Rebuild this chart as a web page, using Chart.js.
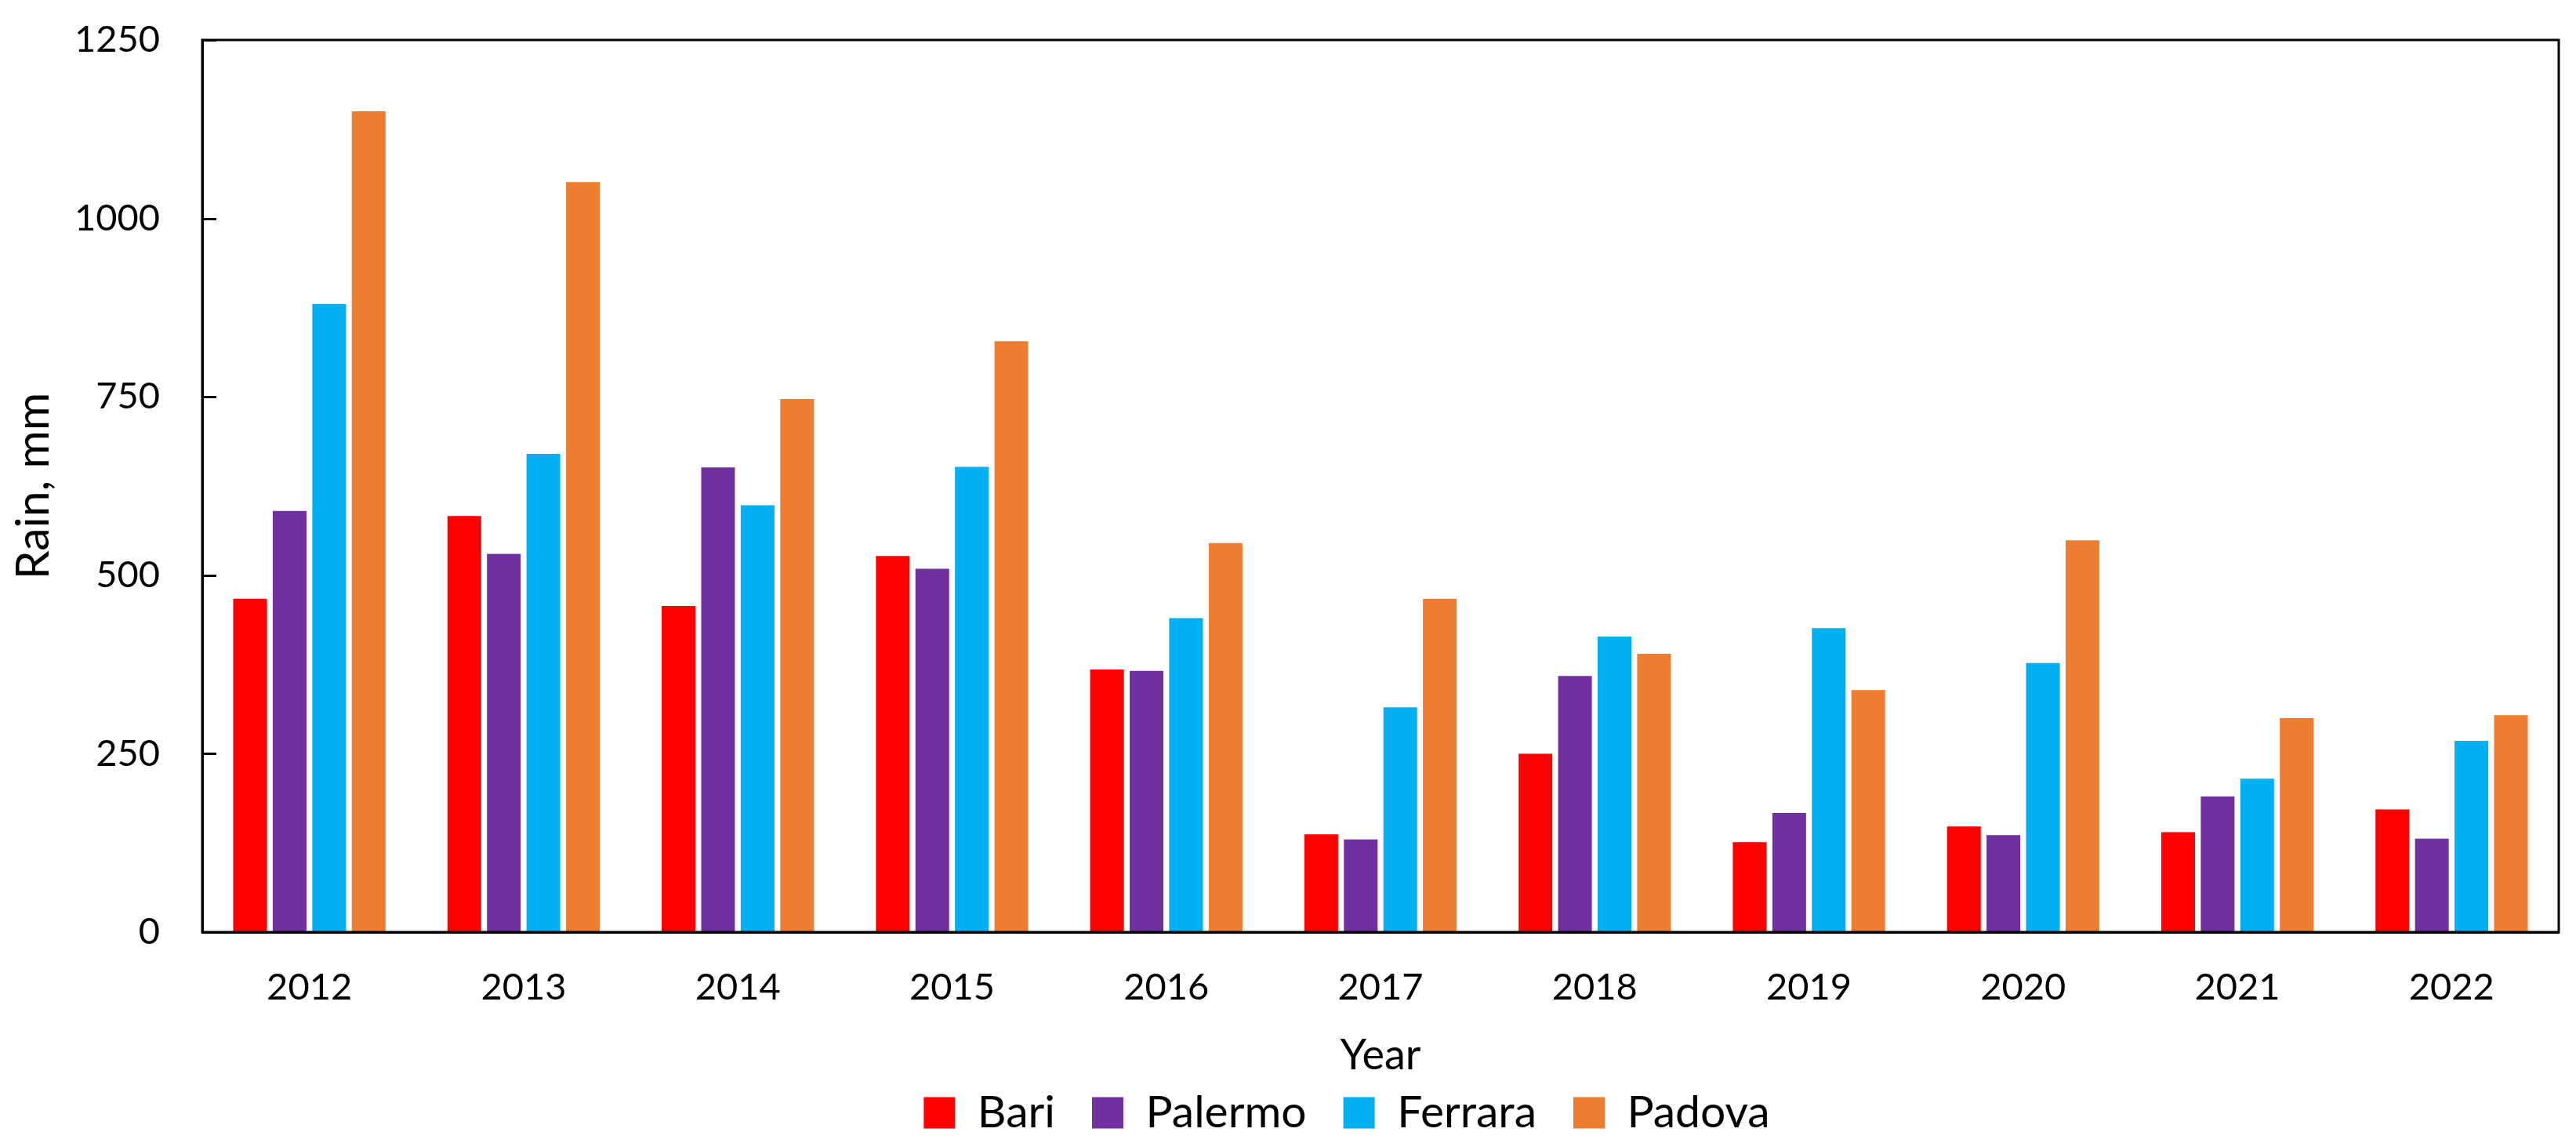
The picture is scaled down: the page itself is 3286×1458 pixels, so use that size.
<!DOCTYPE html>
<html>
<head>
<meta charset="utf-8">
<title>Rain by year</title>
<script src="https://cdn.jsdelivr.net/npm/chart.js@4/dist/chart.umd.min.js"></script>
<style>
    html, body { margin: 0; padding: 0; background: #fff; }
    #wrap { width: 3286px; height: 1458px; }
</style>
</head>
<body>
<div id="wrap"><canvas id="rainChart" width="3286" height="1458"></canvas></div>
<script>
const years = ['2012', '2013', '2014', '2015', '2016', '2017', '2018', '2019', '2020', '2021', '2022'];
const bari = [467, 583, 457, 527, 368, 137, 250, 126, 148, 140, 172];
const palermo = [590, 530, 651, 509, 366, 130, 359, 167, 136, 190, 131];
const ferrara = [880, 670, 598, 652, 440, 315, 414, 426, 377, 215, 268];
const padova = [1150, 1051, 747, 828, 545, 467, 390, 339, 549, 300, 304];
const seriesNames = ['Bari', 'Palermo', 'Ferrara', 'Padova'];
const seriesColors = ['#FF0000', '#7030A0', '#00B0F0', '#ED7D31'];
const yMin = 0;
const yMax = 1250;
const yStep = 250;

const FONT = 'Lato, "Open Sans", sans-serif';

// box round the plot and short inward ticks on the y axis
const framePlugin = {
    id: 'frame',
    afterLayout(chart) {
        // legend sits a bit right of the canvas centre in the original
        chart.legend.left += 86;
        chart.legend.right += 86;
    },
    afterDraw(chart) {
        const { ctx, chartArea: a } = chart;
        const yScale = chart.scales.y;
        ctx.save();
        ctx.strokeStyle = '#000';
        ctx.lineWidth = 3;
        yScale.ticks.forEach(t => {
            const py = Math.round(yScale.getPixelForValue(t.value)) + 0.5;
            ctx.beginPath();
            ctx.moveTo(a.left, py);
            ctx.lineTo(a.left + 18, py);
            ctx.stroke();
        });
        ctx.strokeRect(a.left, a.top, a.right - a.left, a.bottom - a.top);
        ctx.restore();
    }
};

function buildDatasets() {
    const values = [bari, palermo, ferrara, padova];
    return seriesNames.map((name, i) => ({
        label: name,
        data: values[i],
        backgroundColor: seriesColors[i],
        borderWidth: 0,
        categoryPercentage: 0.738,
        barPercentage: 0.853
    }));
}

const ctx = document.getElementById('rainChart').getContext('2d');
const rainChart = new Chart(ctx, {
    type: 'bar',
    data: {
        labels: years,
        datasets: buildDatasets()
    },
    options: {
        responsive: false,
        animation: false,
        devicePixelRatio: 1,
        layout: {
            padding: { left: 0, right: 22, top: 51, bottom: 0 }
        },
        plugins: {
            legend: {
                position: 'bottom',
                labels: {
                    boxWidth: 40,
                    boxHeight: 40,
                    padding: 47,
                    color: '#000',
                    font: { family: FONT, size: 57 }
                }
            },
            tooltip: { enabled: false }
        },
        scales: {
            x: {
                grid: { display: false },
                border: { display: true, color: '#000', width: 3 },
                ticks: {
                    color: '#000',
                    padding: 35,
                    font: { family: FONT, size: 47 }
                },
                title: {
                    display: true,
                    text: 'Year',
                    color: '#000',
                    font: { family: FONT, size: 54 },
                    padding: { top: 0, bottom: -35 }
                },
                afterFit: (scale) => { scale.height = 155; }
            },
            y: {
                min: yMin,
                max: yMax,
                grid: { display: false, drawTicks: false },
                border: { display: true, color: '#000', width: 3 },
                ticks: {
                    stepSize: yStep,
                    color: '#000',
                    padding: 54,
                    font: { family: FONT, size: 47 },
                    callback: (value) => String(value)
                },
                title: {
                    display: true,
                    text: 'Rain, mm',
                    color: '#000',
                    font: { family: FONT, size: 59 },
                    padding: { top: 8, bottom: 0 }
                },
                afterFit: (scale) => {
                    scale.width = 258;
                    scale.paddingTop = 0;
                    scale.paddingBottom = 0;
                }
            }
        }
    },
    plugins: [framePlugin]
});
</script>
</body>
</html>
